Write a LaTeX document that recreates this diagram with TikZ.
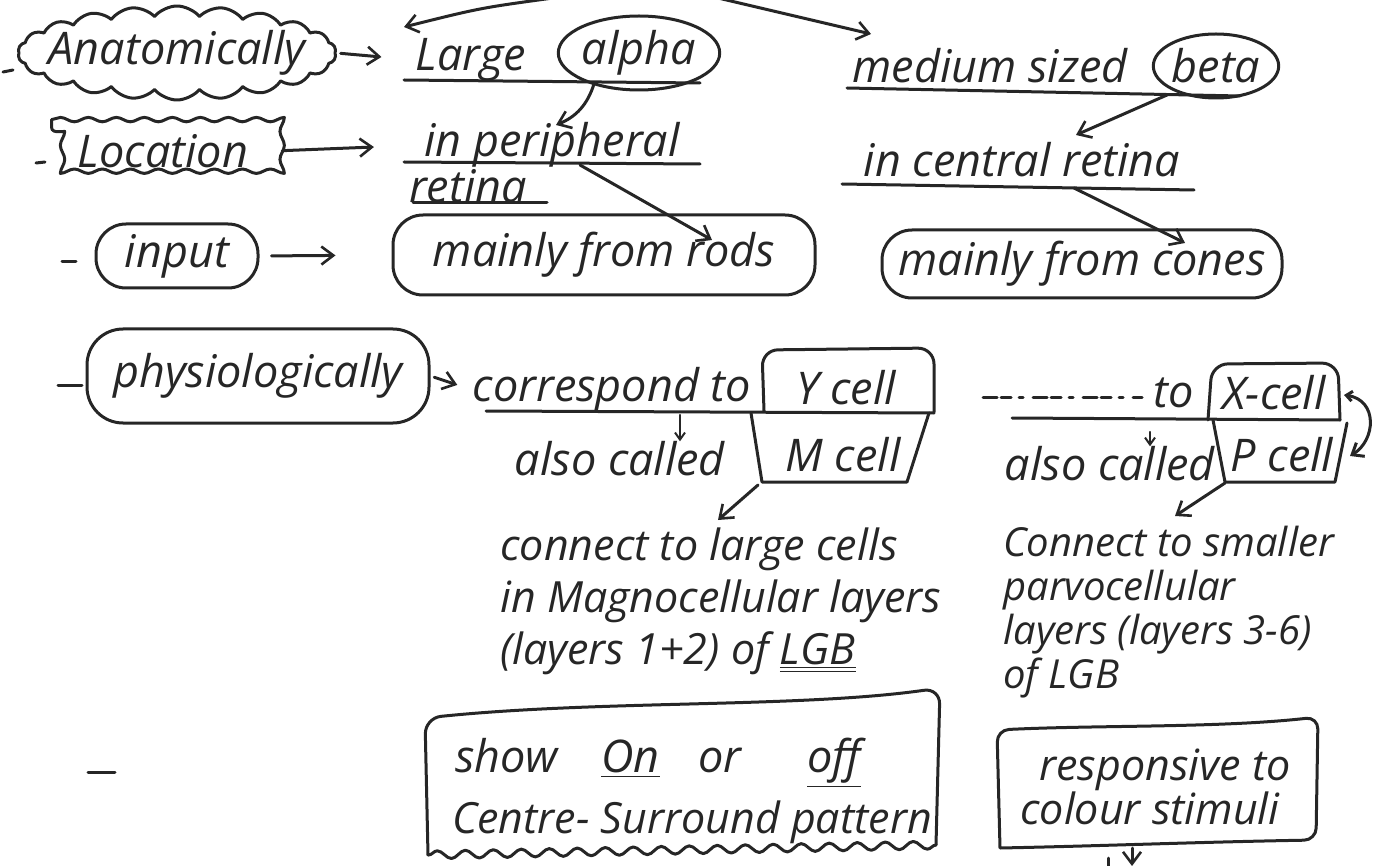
\documentclass[tikz,border=0pt]{standalone}
\usepackage{fontspec}
\setmainfont{Open Sans}
\usetikzlibrary{arrows.meta,decorations.pathmorphing,shapes.geometric,shapes.symbols,calc}

\begin{document}
\begin{tikzpicture}[x=0.5pt,y=-0.5pt,
  ink/.style={line width=1.5pt, line cap=round, line join=round, black!85},
  arr/.style={ink, -{Straight Barb[length=6pt,width=9pt,line width=1.3pt]}},
  tinyarr/.style={ink, line width=1.1pt, -{Straight Barb[length=3.5pt,width=5pt,line width=1pt]}},
  txt/.style={font=\fontsize{22.5}{26}\selectfont\itshape, inner sep=0pt, text=black!85},
  small/.style={font=\fontsize{21.5}{26}\selectfont\itshape, inner sep=0pt, align=left, text=black!85},
  cloudbox/.style={ink, draw, cloud, cloud puffs=22, cloud puff arc=100, cloud ignores aspect, inner sep=0pt},
  wavyline/.style={ink, decorate, decoration={snake, segment length=14pt, amplitude=1.1pt}},
  roundbox/.style={ink, draw, rounded corners=15pt},
  loop/.style={ink, draw, ellipse, inner sep=0pt}
]
\useasboundingbox (0,0) rectangle (1398,866);

% ---------- row: anatomy ----------
\node[cloudbox, txt, minimum width=159pt, minimum height=47pt] (anat) at (177,53) {\makebox[0pt]{Anatomically}};
\node[txt] (large) at (471,60) {Large};
\node[loop, txt, minimum width=63pt, minimum height=37pt] (alpha) at (639,53) {alpha};
\node[txt] (medium) at (990,66) {medium sized};
\node[loop, txt, minimum width=58pt, minimum height=32pt] (beta) at (1216,66) {beta};
\draw[ink] (404,80) -- (700,83);
\draw[ink] (847,88) -- (1240,96);

% ---------- row: location ----------
\node[txt, minimum width=111pt, minimum height=31pt] (loc) at (163,151) {Location};
\draw[wavyline] (loc.north west) -- (loc.north east) -- (loc.south east) -- (loc.south west) -- cycle;
\node[txt] (periph) at (552,145) {in peripheral};
\node[txt] (retina) at (468,186) {retina};
\node[txt] (central) at (1022,160) {in central retina};
\draw[ink] (404,162) -- (700,164);
\draw[ink] (413,203) -- (547,203);
\draw[ink] (842,184) -- (1194,190);

% ---------- row: input ----------
\node[roundbox, txt, minimum width=81pt, minimum height=32pt] (input) at (177,256) {input};
\node[roundbox, txt, minimum width=211pt, minimum height=40pt] (rods) at (604,255) {mainly from rods};
\node[roundbox, txt, minimum width=200pt, minimum height=34pt] (cones) at (1082,264) {mainly from cones};

% ---------- row: physiology ----------
\node[roundbox, rounded corners=18pt, txt, minimum width=171pt, minimum height=47pt] (phys) at (258,376) {physiologically};
\node[txt] (corr) at (612,390) {correspond to};
\node[txt] (ycell) at (846,388) {Y cell};
\node[txt] (also1) at (620,459) {also called};
\node[txt] (mcell) at (843,455) {M cell};
\draw[ink] (486,411) -- (934,413);
\draw[ink, rounded corners=8pt] (764,411) -- (762,350) -- (934,348) -- (934,412);
\draw[ink] (751,413) -- (762,482) -- (907,482) -- (929,413);

\node[txt] (to2) at (1174,393) {to};
\node[txt] (xcell) at (1274,393) {X-cell};
\node[txt] (also2) at (1110,464) {also called};
\node[txt] (pcell) at (1282,455) {P cell};
\draw[ink, dash pattern=on 7pt off 2pt on 5pt off 4pt on 2pt off 5pt] (983,397) -- (1142,397);
\draw[ink] (1012,418) -- (1340,420);
\draw[ink, rounded corners=8pt] (1208,420) -- (1212,364) -- (1338,363) -- (1340,420);
\draw[ink] (1213,420) -- (1225,482) -- (1335,482) -- (1347,423);

\node[small, anchor=north west] (conn1) at (500,527)
  {connect to large cells\\in Magnocellular layers\\(layers 1+2) of \underline{\underline{LGB}}};
\node[small, anchor=north west, font=\fontsize{20}{22}\selectfont\itshape] (conn2) at (1003,526)
  {Connect to smaller\\parvocellular\\layers (layers 3-6)\\of LGB};

% ---------- row: response ----------
\node[txt] (show) at (658,763) {show\hspace{0.7em} \underline{On}\hspace{0.6em} or\hspace{1.2em} \underline{off}};
\node[txt, font=\fontsize{21.5}{26}\selectfont\itshape] (centre) at (692,822) {Centre- Surround pattern};
\draw[ink, rounded corners=8pt] (428,855) -- (425,718) .. controls (600,700) and (800,708) .. (940,688) -- (936,845);
\draw[ink, decorate, decoration={snake, segment length=14pt, amplitude=2pt}] (936,845) -- (428,855);

\node[small] (resp) at (1165,770) {responsive to};
\node[small] (colour) at (1150,808) {colour stimuli};
\draw[ink, rounded corners=6pt] (1000,848) -- (997,730) .. controls (1100,725) and (1220,728) .. (1318,717) -- (1316,840) .. controls (1200,842) and (1100,846) .. (1000,848);

% ---------- bullet dashes ----------
\draw[ink] (3,72) -- (13,70);
\draw[ink] (36,163) -- (45,162);
\draw[ink] (62,262) -- (76,262);
\draw[ink] (58,385) -- (82,385);
\draw[ink] (88,772) -- (115,772);

% ---------- connector end points ----------
\coordinate (topL) at (553,-2);
\coordinate (topR) at (718,-2);
\coordinate (tipL) at (404,27);
\coordinate (tipR) at (871,34);
\coordinate (alphafoot) at (594,84);
\coordinate (periphtop) at (556,125);
\coordinate (periphfoot) at (580,165);
\coordinate (rodsin) at (712,240);
\coordinate (centralfoot) at (1074,188);
\coordinate (conesin) at (1185,243);
\coordinate (betafoot) at (1167,95);
\coordinate (centraltop) at (1076,135);
\coordinate (mfoot) at (758,485);
\coordinate (conn1top) at (718,520);
\coordinate (pfoot) at (1225,483);
\coordinate (conn2top) at (1175,516);
\coordinate (respout) at (1132,866);

% ---------- connectors ----------
\draw[arr] (topL) .. controls (480,8) .. (tipL);
\draw[arr] (topR) -- (tipR);
\draw[arr, shorten >=17pt, shorten <=2pt] (anat.east) -- (large.west);
\draw[arr] (alphafoot) to[bend left=25] (periphtop);
\draw[arr, shorten >=25pt, shorten <=4pt] (loc.east) -- (periph.west);
\draw[arr] (periphfoot) -- (rodsin);
\draw[arr, shorten <=6pt, shorten >=28pt] (input.east) -- (rods.west);
\draw[arr] (betafoot) -- (centraltop);
\draw[arr] (centralfoot) -- (conesin);
\draw[arr, shorten <=2pt, shorten >=8pt] (phys.east) -- (corr.west);
\draw[tinyarr] (680,415) -- (also1.north -| 680,0);
\draw[arr] (mfoot) -- (conn1top);
\draw[tinyarr] (1150,432) -- (also2.north -| 1150,0);
\draw[ink, {Straight Barb[length=3pt,width=5pt]}-{Straight Barb[length=5pt,width=8pt]}] (1344,395) .. controls (1378,400) and (1376,440) .. (1350,456);
\draw[arr] (pfoot) -- (conn2top);
\draw[arr] (1132,848) -- (respout);
\draw[ink] (1108,858) -- (1108,866);
\end{tikzpicture}
\end{document}
